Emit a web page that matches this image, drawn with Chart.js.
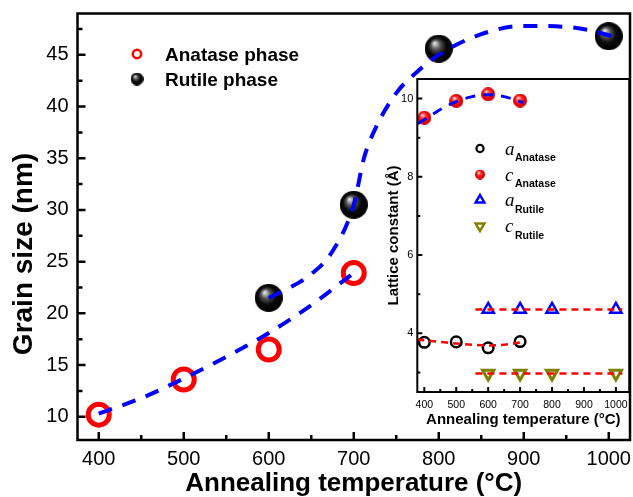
<!DOCTYPE html>
<html lang="en">
<head>
<meta charset="UTF-8" />
<title>Grain size vs annealing temperature</title>
<script src="https://cdn.jsdelivr.net/npm/chart.js"></script>
<style>
  body { margin: 0; background: #fff; }
  #wrap { position: relative; width: 633px; height: 497px; }
  #mainChart { position: absolute; left: 0; top: 0; }
  #insetChart { position: absolute; left: 372px; top: 70px; }
</style>
</head>
<body>
<div id="wrap">
  <canvas id="mainChart" width="633" height="497"></canvas>
  <canvas id="insetChart" width="261" height="365"></canvas>
</div>
<script>
// ---- main plot: grain size (nm) ----
const anataseTemp = [400, 500, 600, 700];
const anataseSize = [10.2, 13.6, 16.5, 23.9];
const rutileTemp = [600, 700, 800, 1000];
const rutileSize = [21.5, 30.5, 45.6, 46.8];

// dashed guide curves
const anataseFitTemp = [400, 450, 500, 550, 600, 650, 700];
const anataseFit = [10.3, 11.8, 13.7, 15.8, 18.1, 20.8, 23.9];
const rutileFitTemp = [600, 625, 650, 675, 700, 712, 725, 750, 775, 800, 850, 900, 950, 1000, 1015];
const rutileFit = [21.5, 22.5, 23.8, 26.0, 30.5, 35.0, 37.8, 41.3, 43.4, 45.0, 47.0, 47.8, 47.7, 46.9, 46.4];

const xTicks = [400, 500, 600, 700, 800, 900, 1000];
const xMinor = [450, 550, 650, 750, 850, 950];
const yTicks = [10, 15, 20, 25, 30, 35, 40, 45];
const yMinor = [12.5, 17.5, 22.5, 27.5, 32.5, 37.5, 42.5, 47.5];

// ---- inset: lattice constants (Å) ----
const insetTemp = [400, 500, 600, 700];
const aAnatase = [3.77, 3.78, 3.63, 3.79];
const cAnatase = [9.51, 9.94, 10.11, 9.95];
const insetRutileTemp = [600, 700, 800, 1000];
const aRutile = [4.61, 4.61, 4.61, 4.61];
const cRutile = [2.97, 2.97, 2.97, 2.97];

const cAnataseFitTemp = [380, 400, 450, 500, 550, 600, 650, 710];
const cAnataseFit = [9.36, 9.46, 9.72, 9.92, 10.05, 10.1, 10.05, 9.9];
const aAnataseFitTemp = [378, 450, 500, 550, 600, 650, 710];
const aAnataseFit = [3.84, 3.78, 3.74, 3.71, 3.69, 3.71, 3.78];
const rutileLineTemp = [560, 1020];
const aRutileLine = [4.61, 4.61];
const cRutileLine = [2.97, 2.97];

const insetXTicks = [400, 500, 600, 700, 800, 900, 1000];
const insetXMinor = [450, 550, 650, 750, 850, 950];
const insetYTicks = [4, 6, 8, 10];
const insetYMinor = [3, 5, 7, 9];

Chart.defaults.font.family = '"Liberation Sans", Arial, sans-serif';
Chart.defaults.color = '#000';

const pts = (xs, ys) => xs.map((x, i) => ({ x: x, y: ys[i] }));

// shaded ball used as a point style
function sphere(r, stops) {
  const c = document.createElement('canvas');
  c.width = c.height = Math.ceil(r * 2);
  const g = c.getContext('2d');
  const grad = g.createRadialGradient(r * 0.7, r * 0.6, r * 0.05, r, r, r);
  stops.forEach(s => grad.addColorStop(s[0], s[1]));
  g.fillStyle = grad;
  g.beginPath();
  g.arc(r, r, r, 0, Math.PI * 2);
  g.fill();
  return c;
}
const blackStops = [[0, '#e0e0e0'], [0.3, '#555'], [0.62, '#0a0a0a'], [1, '#000']];
const redStops = [[0, '#ffe0e0'], [0.3, '#ff4a4a'], [0.7, '#f00000'], [1, '#c80000']];
const blackBall = sphere(14, blackStops);
const blackBallSmall = sphere(6.5, blackStops);
const redBall = sphere(7, redStops);
const redBallSmall = sphere(5, redStops);

// fixed axis box sizes, no extra room for overhanging labels
const fixW = w => s => { s.width = w; s.paddingTop = 0; s.paddingBottom = 0; };
const fixH = h => s => { s.height = h; s.paddingLeft = 0; s.paddingRight = 0; };

// box + inward tick marks
function framePlugin(cfg) {
  return {
    id: 'frame',
    afterDatasetsDraw(chart) {
      const { ctx, chartArea: a, scales: { x, y } } = chart;
      ctx.save();
      ctx.strokeStyle = '#000';
      ctx.lineWidth = cfg.lw;
      ctx.beginPath();
      cfg.xMajor.forEach(v => { const p = x.getPixelForValue(v); ctx.moveTo(p, a.bottom); ctx.lineTo(p, a.bottom - cfg.major); });
      cfg.xMinor.forEach(v => { const p = x.getPixelForValue(v); ctx.moveTo(p, a.bottom); ctx.lineTo(p, a.bottom - cfg.minor); });
      cfg.yMajor.forEach(v => { const p = y.getPixelForValue(v); ctx.moveTo(a.left, p); ctx.lineTo(a.left + cfg.major, p); });
      cfg.yMinor.forEach(v => { const p = y.getPixelForValue(v); ctx.moveTo(a.left, p); ctx.lineTo(a.left + cfg.minor, p); });
      ctx.stroke();
      ctx.strokeRect(a.left, a.top, a.right - a.left, a.bottom - a.top);
      ctx.restore();
    }
  };
}

const mainExtras = {
  id: 'mainExtras',
  afterDraw(chart) {
    const ctx = chart.ctx;
    ctx.save();
    // y title
    ctx.translate(24, 254);
    ctx.rotate(-Math.PI / 2);
    ctx.font = 'bold 28px "Liberation Sans", Arial, sans-serif';
    ctx.textAlign = 'center';
    ctx.textBaseline = 'middle';
    ctx.fillStyle = '#000';
    ctx.fillText('Grain size (nm)', 0, 0);
    ctx.restore();

    // legend
    ctx.save();
    ctx.strokeStyle = '#ff0000';
    ctx.lineWidth = 2.5;
    ctx.beginPath();
    ctx.arc(137, 54, 4.2, 0, Math.PI * 2);
    ctx.stroke();
    ctx.drawImage(blackBallSmall, 137 - 6.5, 79 - 6.5);
    ctx.font = 'bold 19px "Liberation Sans", Arial, sans-serif';
    ctx.fillStyle = '#000';
    ctx.textBaseline = 'alphabetic';
    ctx.fillText('Anatase phase', 165, 60.5);
    ctx.fillText('Rutile phase', 165, 85.5);
    ctx.restore();
  }
};

new Chart(document.getElementById('mainChart'), {
  type: 'scatter',
  data: {
    datasets: [
      { data: pts(anataseFitTemp, anataseFit), showLine: true, borderColor: '#0000ff', borderWidth: 4,
        borderDash: [14, 11], pointRadius: 0, cubicInterpolationMode: 'monotone', order: 0 },
      { data: pts(rutileFitTemp, rutileFit), showLine: true, borderColor: '#0000ff', borderWidth: 4,
        borderDash: [14, 11], pointRadius: 0, cubicInterpolationMode: 'monotone', order: 0 },
      { data: pts(anataseTemp, anataseSize), pointStyle: 'circle', pointRadius: 10.5,
        borderColor: '#ff0000', backgroundColor: 'rgba(0,0,0,0)', borderWidth: 5, order: 1 },
      { data: pts(rutileTemp, rutileSize), pointStyle: blackBall, order: 1 }
    ]
  },
  options: {
    responsive: false,
    animation: false,
    layout: { autoPadding: false, padding: { top: 13.5, right: 3, left: 0, bottom: 0 } },
    plugins: { legend: { display: false }, tooltip: { enabled: false } },
    scales: {
      x: {
        type: 'linear', min: 375, max: 1025,
        grid: { display: false, drawTicks: false }, border: { display: false },
        afterBuildTicks: s => { s.ticks = xTicks.map(v => ({ value: v })); },
        afterFit: fixH(57),
        ticks: { font: { size: 20 }, padding: 7, maxRotation: 0, callback: v => String(v) },
        title: { display: true, text: 'Annealing temperature (°C)',
                 font: { size: 26, weight: 'bold', lineHeight: 1 }, padding: { top: 0, bottom: 0 } }
      },
      y: {
        type: 'linear', min: 7.75, max: 49,
        grid: { display: false, drawTicks: false }, border: { display: false },
        afterBuildTicks: s => { s.ticks = yTicks.map(v => ({ value: v })); },
        afterFit: fixW(77.5),
        ticks: { font: { size: 20 }, padding: 9, callback: v => String(v) }
      }
    }
  },
  plugins: [framePlugin({ lw: 2.5, major: 8, minor: 5, xMajor: xTicks, xMinor: xMinor, yMajor: yTicks, yMinor: yMinor }), mainExtras]
});

// inset legend: italic letter with bold subscript
const insetLegend = {
  id: 'insetLegend',
  afterDraw(chart) {
    const ctx = chart.ctx;
    const mx = 108;
    const rows = [78.5, 104.5, 130, 156];
    ctx.save();
    // a Anatase: open black circle
    ctx.strokeStyle = '#000';
    ctx.lineWidth = 2.2;
    ctx.beginPath();
    ctx.arc(mx, rows[0], 3.6, 0, Math.PI * 2);
    ctx.stroke();
    // c Anatase: red ball
    ctx.drawImage(redBallSmall, mx - 5, rows[1] - 5);
    // a Rutile: blue up triangle, c Rutile: olive down triangle
    ctx.strokeStyle = '#0000ff';
    ctx.lineWidth = 2.5;
    const tri = (cy, dir) => {
      const r = 5;
      ctx.beginPath();
      ctx.moveTo(mx, cy - dir * r);
      ctx.lineTo(mx + r * 0.866, cy + dir * r * 0.5);
      ctx.lineTo(mx - r * 0.866, cy + dir * r * 0.5);
      ctx.closePath();
      ctx.stroke();
    };
    tri(rows[2], 1);
    ctx.strokeStyle = '#808000';
    tri(rows[3], -1);

    const labels = [['a', 'Anatase'], ['c', 'Anatase'], ['a', 'Rutile'], ['c', 'Rutile']];
    ctx.fillStyle = '#000';
    labels.forEach((l, i) => {
      ctx.font = 'italic 19px "Liberation Serif", "Times New Roman", serif';
      ctx.fillText(l[0], 133, rows[i] + 6);
      ctx.font = 'bold 10.5px "Liberation Sans", Arial, sans-serif';
      ctx.fillText(l[1], 143, rows[i] + 12.5);
    });
    ctx.restore();
  }
};

new Chart(document.getElementById('insetChart'), {
  type: 'scatter',
  data: {
    datasets: [
      { data: pts(cAnataseFitTemp, cAnataseFit), showLine: true, borderColor: '#0000ff', borderWidth: 3,
        borderDash: [10, 8], pointRadius: 0, cubicInterpolationMode: 'monotone', order: 0 },
      { data: pts(aAnataseFitTemp, aAnataseFit), showLine: true, borderColor: '#ff0000', borderWidth: 2.5,
        borderDash: [7, 5], pointRadius: 0, cubicInterpolationMode: 'monotone', order: 0 },
      { data: pts(rutileLineTemp, aRutileLine), showLine: true, borderColor: '#ff0000', borderWidth: 2.5,
        borderDash: [7, 5], pointRadius: 0, order: 0 },
      { data: pts(rutileLineTemp, cRutileLine), showLine: true, borderColor: '#ff0000', borderWidth: 2.5,
        borderDash: [7, 5], pointRadius: 0, order: 0 },
      { data: pts(insetTemp, aAnatase), pointStyle: 'circle', pointRadius: 5.3,
        borderColor: '#000', backgroundColor: 'rgba(0,0,0,0)', borderWidth: 2.5, order: 1 },
      { data: pts(insetTemp, cAnatase), pointStyle: redBall, order: 1 },
      { data: pts(insetRutileTemp, aRutile), pointStyle: 'triangle', pointRadius: 6.5,
        borderColor: '#0000ff', backgroundColor: 'rgba(0,0,0,0)', borderWidth: 2.5, order: 1 },
      { data: pts(insetRutileTemp, cRutile), pointStyle: 'triangle', rotation: 180, pointRadius: 6.5,
        borderColor: '#808000', backgroundColor: 'rgba(0,0,0,0)', borderWidth: 3, order: 1 }
    ]
  },
  options: {
    responsive: false,
    animation: false,
    layout: { autoPadding: false, padding: { top: 9, right: 3.7, left: 0, bottom: 0 } },
    plugins: { legend: { display: false }, tooltip: { enabled: false } },
    scales: {
      x: {
        type: 'linear', min: 378, max: 1042,
        grid: { display: false, drawTicks: false }, border: { display: false },
        afterBuildTicks: s => { s.ticks = insetXTicks.map(v => ({ value: v })); },
        afterFit: fixH(43),
        ticks: { font: { size: 10.5 }, padding: 7, maxRotation: 0, autoSkip: false, callback: v => String(v) },
        title: { display: true, text: 'Annealing temperature (°C)',
                 font: { size: 15, weight: 'bold', lineHeight: 1 }, padding: { top: 0, bottom: 7.5 } }
      },
      y: {
        type: 'linear', min: 2.5, max: 10.5,
        grid: { display: false, drawTicks: false }, border: { display: false },
        afterBuildTicks: s => { s.ticks = insetYTicks.map(v => ({ value: v })); },
        afterFit: fixW(45.3),
        ticks: { font: { size: 11 }, padding: 4, callback: v => String(v) },
        title: { display: true, text: 'Lattice constant (Å)',
                 font: { size: 15, weight: 'bold', lineHeight: 1 }, padding: { top: 14, bottom: 0 } }
      }
    }
  },
  plugins: [framePlugin({ lw: 2, major: 5, minor: 3, xMajor: insetXTicks, xMinor: insetXMinor, yMajor: insetYTicks, yMinor: insetYMinor }), insetLegend]
});
</script>
</body>
</html>
